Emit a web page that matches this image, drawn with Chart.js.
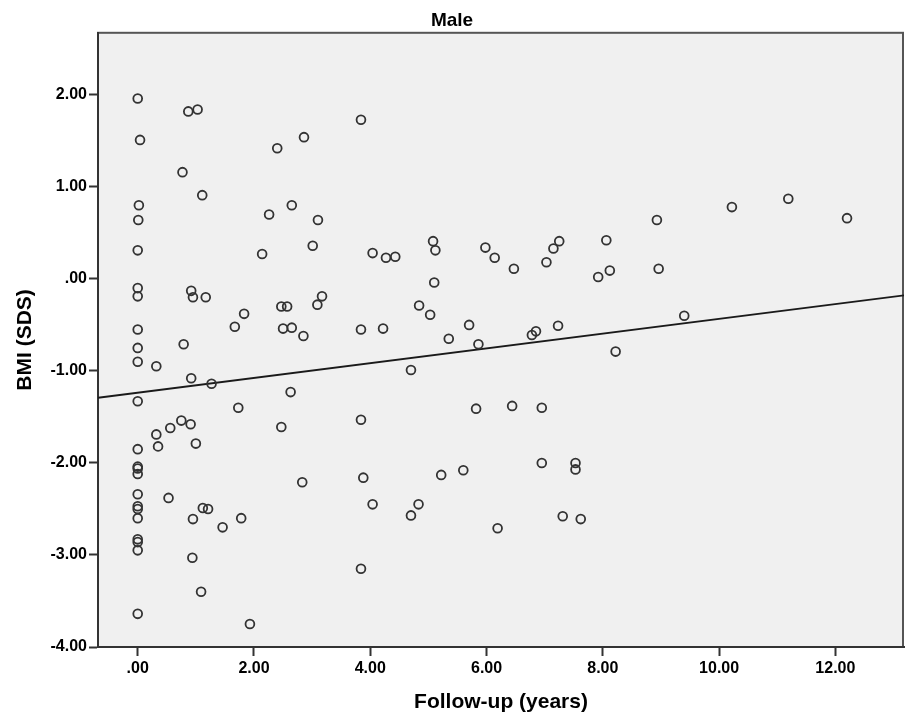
<!DOCTYPE html>
<html><head><meta charset="utf-8">
<script src="https://cdn.jsdelivr.net/npm/chart.js@4/dist/chart.umd.min.js"></script>
<style>html,body{margin:0;padding:0;background:#fff}</style>
</head><body>
<canvas id="c" width="905" height="722"></canvas>
<script>
// Follow-up (years) for each boy
const followUpYears = [
  0.00,0.04,0.02,0.01,0.00,0.00,0.00,0.00,0.00,0.00,0.00,0.00,0.00,0.00,0.00,0.00,0.00,0.00,0.00,0.00,0.00,0.00,0.00,
  0.32,0.32,0.35,0.53,0.56,0.75,0.77,0.79,0.87,0.91,0.92,0.92,0.94,0.95,0.95,1.00,1.03,1.09,1.11,1.12,1.17,1.21,1.27,
  1.46,1.67,1.73,1.78,1.83,1.93,2.14,2.26,2.40,2.47,2.47,2.50,2.57,2.63,2.65,2.65,2.83,2.85,2.86,3.01,3.09,3.10,3.17,
  3.84,3.84,3.84,3.84,3.88,4.04,4.04,4.22,4.27,4.43,4.70,4.70,4.83,4.84,5.03,5.08,5.10,5.12,5.22,5.35,5.60,5.70,5.82,
  5.86,5.98,6.14,6.19,6.44,6.47,6.78,6.85,6.95,6.95,7.03,7.15,7.23,7.25,7.31,7.53,7.53,7.62,7.92,8.06,8.12,8.22,8.93,
  8.96,9.40,10.22,11.19,12.20
];
// BMI (SDS) for each boy
const bmiSds = [
  1.96,1.51,0.80,0.64,0.31,-0.10,-0.19,-0.55,-0.75,-0.90,-1.33,-1.85,-2.04,-2.06,-2.12,-2.34,-2.47,-2.50,-2.60,-2.83,-2.86,-2.95,-3.64,
  -0.95,-1.69,-1.82,-2.38,-1.62,-1.54,1.16,-0.71,1.82,-1.58,-0.13,-1.08,-3.03,-0.20,-2.61,-1.79,1.84,-3.40,0.91,-2.49,-0.20,-2.50,-1.14,
  -2.70,-0.52,-1.40,-2.60,-0.38,-3.75,0.27,0.70,1.42,-0.30,-1.61,-0.54,-0.30,-1.23,0.80,-0.53,-2.21,-0.62,1.54,0.36,-0.28,0.64,-0.19,
  1.73,-0.55,-1.53,-3.15,-2.16,0.28,-2.45,-0.54,0.23,0.24,-0.99,-2.57,-2.45,-0.29,-0.39,0.41,-0.04,0.31,-2.13,-0.65,-2.08,-0.50,-1.41,
  -0.71,0.34,0.23,-2.71,-1.38,0.11,-0.61,-0.57,-1.40,-2.00,0.18,0.33,-0.51,0.41,-2.58,-2.00,-2.07,-2.61,0.02,0.42,0.09,-0.79,0.64,
  0.11,-0.40,0.78,0.87,0.66
];
const xTickValues = [0, 2, 4, 6, 8, 10, 12];
const xTickLabels = ['.00', '2.00', '4.00', '6.00', '8.00', '10.00', '12.00'];
const yTickValues = [-4, -3, -2, -1, 0, 1, 2];
const yTickLabels = ['-4.00', '-3.00', '-2.00', '-1.00', '.00', '1.00', '2.00'];
const xRange = [-0.683, 13.18];
const yRange = [-4, 2.674];
// linear fit line
const fitIntercept = -1.237;
const fitSlope = 0.0802;

const FONT = "'Liberation Sans', Arial, sans-serif";
const points = followUpYears.map((x, i) => ({x: x, y: bmiSds[i]}));
const fitLine = xRange.map(x => ({x: x, y: fitIntercept + fitSlope * x}));

const frame = {
  id: 'frame',
  beforeDraw(chart) {
    const {ctx, chartArea: a} = chart;
    ctx.save();
    ctx.fillStyle = '#f0f0f0';
    ctx.fillRect(a.left, a.top, a.right - a.left, a.bottom - a.top);
    ctx.strokeStyle = '#555';
    ctx.lineWidth = 2;
    ctx.strokeRect(a.left, a.top, a.right - a.left - 1, a.bottom - a.top);
    ctx.restore();
  }
};

new Chart(document.getElementById('c'), {
  type: 'scatter',
  data: {
    datasets: [
      {
        label: 'BMI',
        data: points,
        pointStyle: 'circle',
        pointRadius: 4.4,
        pointBorderWidth: 1.8,
        borderColor: '#333',
        backgroundColor: 'rgba(0,0,0,0)',
        pointBackgroundColor: 'rgba(0,0,0,0)'
      },
      {
        type: 'line',
        label: 'Fit',
        data: fitLine,
        borderColor: '#1a1a1a',
        borderWidth: 1.8,
        pointRadius: 0,
        fill: false
      }
    ]
  },
  options: {
    responsive: false,
    animation: false,
    layout: {autoPadding: false, padding: {left: 0, right: 1, top: 0, bottom: 0}},
    plugins: {
      legend: {display: false},
      tooltip: {enabled: false},
      title: {
        display: true,
        text: 'Male',
        color: '#000',
        font: {family: FONT, size: 19, weight: 'bold'},
        padding: {top: 9, bottom: 1}
      }
    },
    scales: {
      x: {
        type: 'linear',
        min: xRange[0],
        max: xRange[1],
        afterBuildTicks(scale) { scale.ticks = xTickValues.map(v => ({value: v})); },
        afterFit(scale) { scale.height = 75; },
        ticks: {
          color: '#000',
          font: {family: FONT, size: 16, weight: 'bold'},
          padding: 3,
          maxRotation: 0,
          autoSkip: false,
          callback: (v) => xTickLabels[xTickValues.indexOf(v)]
        },
        grid: {drawOnChartArea: false, drawTicks: true, tickLength: 9, tickColor: '#333', tickWidth: 2},
        border: {display: true, color: '#333', width: 2},
        title: {
          display: true,
          text: 'Follow-up (years)',
          color: '#000',
          font: {family: FONT, size: 21, weight: 'bold'},
          padding: {top: 0, bottom: 7}
        }
      },
      y: {
        type: 'linear',
        min: yRange[0],
        max: yRange[1],
        afterBuildTicks(scale) { scale.ticks = yTickValues.map(v => ({value: v})); },
        afterFit(scale) { scale.width = 98; },
        ticks: {
          color: '#000',
          font: {family: FONT, size: 16, weight: 'bold'},
          padding: 2,
          autoSkip: false,
          callback: (v) => yTickLabels[yTickValues.indexOf(v)]
        },
        grid: {drawOnChartArea: false, drawTicks: true, tickLength: 9, tickColor: '#333', tickWidth: 2},
        border: {display: true, color: '#333', width: 2},
        title: {
          display: true,
          text: 'BMI (SDS)',
          color: '#000',
          font: {family: FONT, size: 21, weight: 'bold'},
          padding: {top: 13, bottom: 0}
        }
      }
    }
  },
  plugins: [frame]
});
</script>
</body></html>
